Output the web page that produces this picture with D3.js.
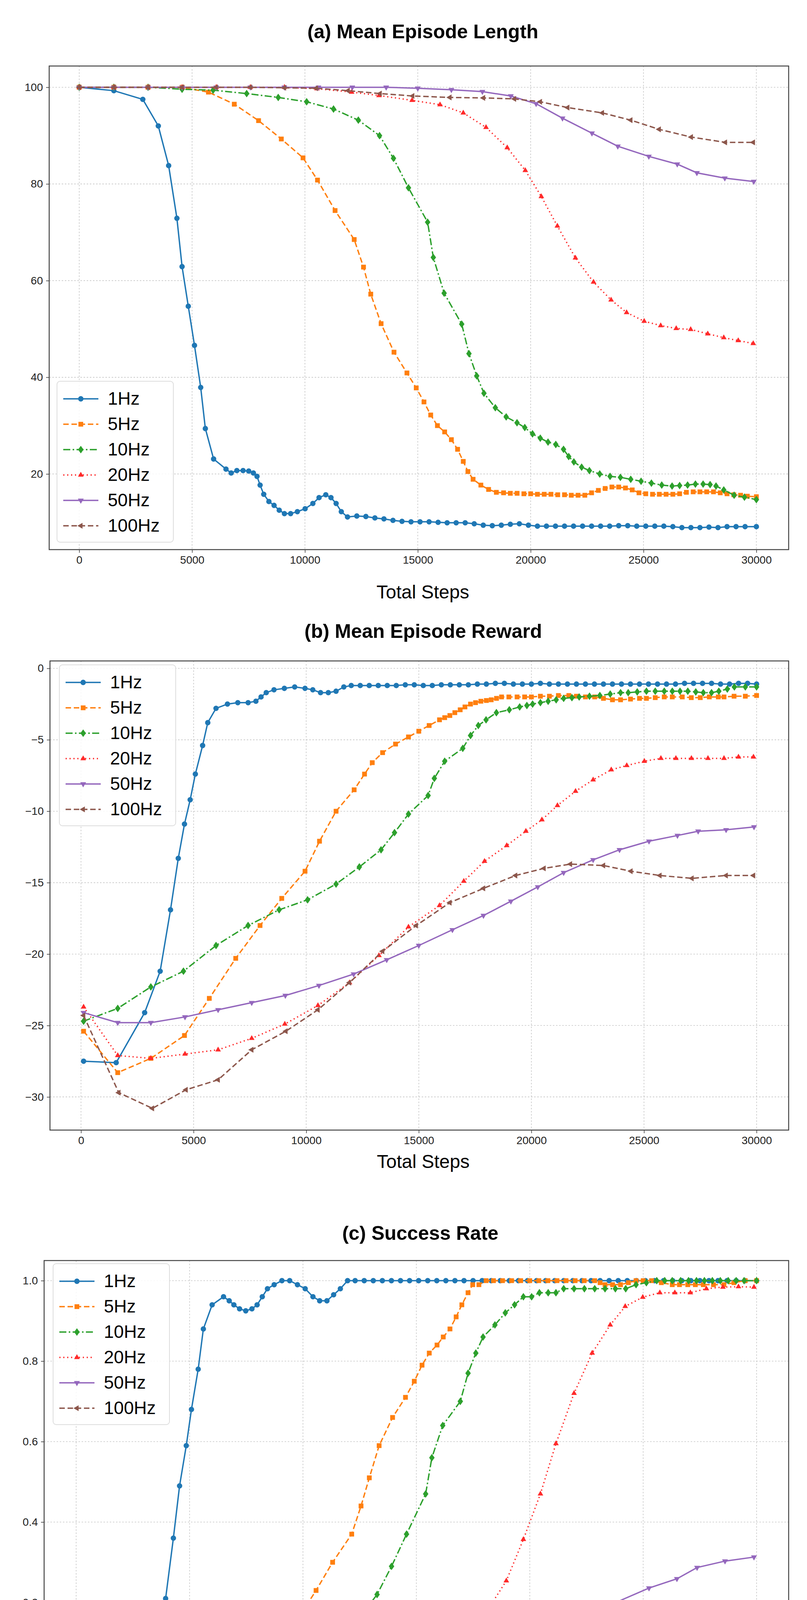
<!DOCTYPE html>
<html>
<head>
<meta charset="utf-8">
<script src="https://cdn.jsdelivr.net/npm/d3@7"></script>
<style>
  body { margin: 0; background: #fff; }
  svg { display: block; }
</style>
</head>
<body>
<div id="chart"></div>
<script>
// series labels, in legend order
const seriesNames = ['1Hz', '5Hz', '10Hz', '20Hz', '50Hz', '100Hz'];

// (a) Mean Episode Length  -- [steps, value]
const len1Hz = [[0,100],[1535,99.3],[2817,97.5],[3504,92],[3962,83.8],[4328,72.9],[4557,62.9],[4832,54.7],[5107,46.6],[5382,37.9],[5588,29.4],[5954,23.1],[6503,21],[6732,20.2],[6984,20.7],[7259,20.7],[7510,20.6],[7717,20.2],[7877,19.5],[8014,17.7],[8175,15.8],[8404,14.3],[8633,13.5],[8862,12.5],[9091,11.8],[9366,11.8],[9664,12.2],[10008,12.8],[10351,13.9],[10626,15.1],[10924,15.7],[11153,15.1],[11382,13.9],[11611,12.2],[11886,11.1],[12298,11.3],[12700,11.2],[13100,10.9],[13500,10.7],[13900,10.4],[14300,10.2],[14700,10.1],[15100,10.1],[15500,10.1],[15900,10],[16300,9.9],[16700,9.9],[17100,9.9],[17500,9.7],[17900,9.4],[18300,9.3],[18700,9.4],[19100,9.6],[19500,9.7],[19900,9.4],[20300,9.2],[20700,9.2],[21100,9.2],[21500,9.2],[21900,9.2],[22300,9.2],[22700,9.2],[23100,9.2],[23500,9.2],[23900,9.3],[24300,9.3],[24700,9.2],[25100,9.2],[25500,9.2],[25900,9.2],[26300,9.1],[26700,8.9],[27100,8.9],[27500,8.9],[27900,9],[28300,8.9],[28700,9.1],[29100,9.1],[29500,9.1],[30000,9.1]];
const len5Hz = [[0,100],[1535,100],[3050,100],[4560,100],[5725,99],[6870,96.5],[7946,93.1],[8954,89.3],[9916,85.4],[10557,80.8],[11336,74.5],[12183,68.5],[12595,62.8],[12916,57.2],[13374,51.1],[13946,45.2],[14519,40.9],[14931,37.8],[15274,34.9],[15572,32.2],[15870,30],[16190,28.7],[16488,27.1],[16763,25.1],[17015,22.6],[17221,20.5],[17450,18.9],[17794,17.7],[18137,16.8],[18481,16.2],[18800,16.1],[19100,16],[19400,16],[19700,15.9],[20000,15.9],[20300,15.8],[20600,15.8],[20900,15.8],[21200,15.7],[21500,15.7],[21800,15.6],[22100,15.6],[22400,15.6],[22700,16.1],[23000,16.6],[23300,17],[23600,17.3],[23900,17.3],[24200,17.1],[24500,16.7],[24800,16.1],[25100,15.9],[25400,15.8],[25700,15.8],[26000,15.8],[26300,15.8],[26600,15.9],[26900,16.2],[27200,16.3],[27500,16.3],[27800,16.3],[28100,16.3],[28400,16.1],[28700,15.9],[29000,15.7],[29300,15.6],[29600,15.4],[30000,15.3]];
const len10Hz = [[0,100],[1535,100],[3050,100],[4557,99.6],[5931,99.4],[7419,98.7],[8817,97.9],[10076,97],[11267,95.5],[12366,93.2],[13305,90],[13923,85.3],[14587,79.2],[15435,72.1],[15687,64.8],[16167,57.4],[16946,51],[17267,44.9],[17610,40.3],[17931,36.7],[18435,33.7],[18916,31.8],[19396,30.6],[19740,29.6],[20083,28.3],[20427,27.4],[20770,26.6],[21114,26.1],[21457,25.1],[21686,23.6],[21915,22.5],[22259,21.4],[22602,20.7],[23060,20],[23518,19.5],[23976,19.3],[24434,18.9],[24892,18.5],[25350,18.1],[25808,17.7],[26266,17.5],[26600,17.6],[26953,17.7],[27300,17.9],[27640,17.9],[27950,17.8],[28212,17.5],[28556,16.7],[29014,15.6],[29472,15.2],[30000,14.7]];
const len20Hz = [[0,100],[1535,100],[3050,100],[4560,100],[6070,100],[7580,100],[9090,100],[10534,99.7],[12069,99],[13282,98.3],[14748,97.3],[15985,96.4],[17015,94.7],[18023,91.7],[18962,87.5],[19763,82.8],[20473,77.4],[21183,71.3],[21984,64.7],[22785,59.7],[23564,56],[24251,53.4],[25029,51.6],[25762,50.7],[26449,50.1],[27090,49.9],[27846,49],[28556,48.2],[29197,47.6],[29861,47]];
const len50Hz = [[0,100],[1535,100],[3050,100],[4560,100],[6070,100],[7580,100],[9090,100],[10600,100],[12100,100],[13600,100],[15000,99.8],[16488,99.5],[17862,99.1],[19121,98.2],[20243,96.6],[21411,93.6],[22716,90.5],[23861,87.8],[25236,85.7],[26495,84.1],[27365,82.3],[28602,81.2],[29885,80.5]];
const len100Hz = [[0,100],[1535,100],[3050,100],[4560,100],[6070,100],[7580,100],[9090,99.9],[10500,99.8],[11909,99.3],[13328,98.7],[14771,98.2],[16419,97.9],[17908,97.8],[19281,97.6],[20427,97],[21640,95.8],[23174,94.7],[24434,93.2],[25693,91.3],[27113,89.7],[28625,88.6],[29862,88.6]];

// (b) Mean Episode Reward
const rew1Hz = [[115,-27.5],[1562,-27.6],[2826,-24.1],[3515,-21.2],[3975,-16.9],[4319,-13.3],[4595,-10.9],[4848,-9.2],[5078,-7.4],[5400,-5.4],[5629,-3.8],[5996,-2.8],[6502,-2.5],[6962,-2.4],[7421,-2.4],[7766,-2.3],[7995,-2],[8225,-1.7],[8570,-1.5],[9030,-1.4],[9489,-1.3],[9948,-1.4],[10292,-1.5],[10637,-1.7],[10982,-1.7],[11326,-1.6],[11671,-1.3],[12000,-1.2],[12400,-1.2],[12800,-1.2],[13200,-1.2],[13600,-1.2],[14000,-1.2],[14400,-1.15],[14800,-1.15],[15200,-1.2],[15600,-1.2],[16000,-1.15],[16400,-1.15],[16800,-1.15],[17200,-1.15],[17600,-1.1],[18000,-1.1],[18400,-1.05],[18800,-1.05],[19200,-1.1],[19600,-1.1],[20000,-1.1],[20400,-1.05],[20800,-1.1],[21200,-1.1],[21600,-1.1],[22000,-1.1],[22400,-1.1],[22800,-1.1],[23200,-1.1],[23600,-1.1],[24000,-1.1],[24400,-1.1],[24800,-1.1],[25200,-1.1],[25600,-1.1],[26000,-1.1],[26400,-1.1],[26800,-1.05],[27200,-1.05],[27600,-1.05],[28000,-1.05],[28400,-1.1],[28800,-1.1],[29200,-1.05],[29600,-1.05],[30000,-1.1]];
const rew5Hz = [[115,-25.4],[1631,-28.3],[3101,-27.3],[4595,-25.7],[5698,-23.1],[6870,-20.3],[7950,-18],[8914,-16.1],[9948,-14.2],[10591,-12.1],[11326,-10],[12130,-8.5],[12590,-7.4],[12934,-6.6],[13393,-5.9],[13968,-5.3],[14542,-4.8],[15000,-4.4],[15460,-4],[15920,-3.6],[16150,-3.45],[16379,-3.3],[16600,-3.1],[16838,-2.9],[17050,-2.7],[17297,-2.5],[17520,-2.4],[17757,-2.3],[18000,-2.25],[18216,-2.2],[18450,-2.1],[18675,-2.0],[19000,-2],[19365,-2],[19700,-2],[20000,-2],[20400,-1.95],[20800,-1.95],[21200,-1.9],[21662,-1.9],[22000,-1.95],[22400,-2],[22811,-2],[23200,-2.1],[23600,-2.2],[23960,-2.2],[24400,-2.15],[24800,-2.1],[25108,-2.1],[25500,-2.05],[25900,-2],[26257,-2],[26700,-2],[27100,-2.05],[27500,-2.05],[27900,-2],[28300,-2],[28554,-2],[29000,-1.95],[29500,-1.95],[30000,-1.9]];
const rew10Hz = [[115,-24.7],[1631,-23.8],[3101,-22.3],[4549,-21.2],[5996,-19.4],[7420,-18],[8799,-16.9],[10062,-16.2],[11326,-15.1],[12360,-13.9],[13324,-12.7],[13922,-11.5],[14542,-10.2],[15414,-8.9],[15690,-7.7],[16150,-6.5],[16953,-5.6],[17298,-4.7],[17643,-4.0],[17987,-3.6],[18446,-3.1],[19020,-2.9],[19480,-2.7],[19800,-2.6],[20054,-2.5],[20400,-2.4],[20744,-2.3],[21100,-2.2],[21433,-2.1],[21800,-2.05],[22122,-2],[22580,-1.95],[23040,-1.9],[23500,-1.8],[23960,-1.7],[24300,-1.7],[24700,-1.65],[25108,-1.6],[25500,-1.6],[25900,-1.6],[26257,-1.6],[26600,-1.6],[26946,-1.6],[27300,-1.65],[27635,-1.7],[28000,-1.7],[28324,-1.6],[28700,-1.45],[29014,-1.3],[29500,-1.3],[30000,-1.3]];
const rew20Hz = [[115,-23.7],[1631,-27.1],[3101,-27.3],[4618,-27],[6088,-26.7],[7581,-25.9],[9051,-24.9],[10521,-23.6],[11922,-22],[13231,-20.1],[14542,-18.1],[15920,-16.6],[16999,-14.9],[17918,-13.5],[18905,-12.4],[19755,-11.4],[20467,-10.6],[21157,-9.6],[21961,-8.6],[22742,-7.8],[23546,-7.1],[24235,-6.8],[25016,-6.5],[25751,-6.3],[26417,-6.3],[27106,-6.3],[27841,-6.3],[28553,-6.3],[29196,-6.2],[29862,-6.2]];
const rew50Hz = [[115,-24.1],[1631,-24.8],[3101,-24.8],[4618,-24.4],[6088,-23.9],[7581,-23.4],[9074,-22.9],[10567,-22.2],[12106,-21.4],[13576,-20.4],[15000,-19.4],[16493,-18.3],[17872,-17.3],[19089,-16.3],[20284,-15.3],[21433,-14.3],[22742,-13.4],[23914,-12.7],[25223,-12.1],[26486,-11.7],[27405,-11.4],[28646,-11.3],[29886,-11.1]];
const rew100Hz = [[115,-24.3],[1677,-29.7],[3170,-30.8],[4663,-29.5],[6088,-28.8],[7581,-26.7],[9097,-25.4],[10521,-23.9],[11922,-22],[13392,-19.8],[14885,-18],[16379,-16.4],[17872,-15.4],[19296,-14.5],[20559,-14],[21731,-13.7],[23201,-13.8],[24419,-14.2],[25705,-14.5],[27130,-14.7],[28646,-14.5],[29862,-14.5]];

// (c) Success Rate
const suc1Hz = [[68,0],[1550,0.01],[2781,0.03],[3488,0.11],[3944,0.21],[4286,0.36],[4559,0.49],[4855,0.59],[5083,0.68],[5380,0.78],[5608,0.88],[5995,0.94],[6497,0.96],[6748,0.95],[6953,0.94],[7204,0.93],[7477,0.925],[7750,0.93],[7978,0.94],[8206,0.96],[8434,0.98],[8730,0.99],[9072,1.0],[9414,1.0],[9756,0.99],[10098,0.98],[10440,0.96],[10736,0.95],[11056,0.95],[11352,0.965],[11648,0.98],[11967,1.0],[12300,1],[12700,1],[13100,1],[13500,1],[13900,1],[14300,1],[14700,1],[15100,1],[15500,1],[15900,1],[16300,1],[16700,1],[17100,1],[17500,1],[17900,1],[18300,1],[18700,1],[19100,1],[19500,1],[19900,1],[20300,1],[20700,1],[21100,1],[21500,1],[21900,1],[22300,1],[22700,1],[23100,1],[23500,1],[23900,1],[24300,1],[24700,1],[25100,1],[25500,1],[25900,1],[26300,1],[26700,1],[27100,1],[27500,1],[27900,1],[28300,1],[28700,1],[29100,1],[29500,1],[30000,1]];
const suc5Hz = [[68,0],[1550,0],[3100,0],[4582,0],[5699,0.01],[6839,0.04],[7933,0.08],[8913,0.13],[9893,0.17],[10577,0.23],[11307,0.30],[12150,0.37],[12560,0.44],[12925,0.51],[13358,0.59],[13951,0.66],[14520,0.71],[14908,0.75],[15250,0.79],[15569,0.82],[15911,0.84],[16185,0.86],[16481,0.88],[16754,0.91],[17005,0.94],[17278,0.97],[17484,0.99],[17757,0.99],[18076,1.0],[18400,1],[18800,1],[19200,1],[19600,1],[20000,1],[20400,1],[20800,1],[21200,1],[21600,1],[22000,1],[22400,1],[22863,1.0],[23100,0.995],[23318,0.99],[23650,0.99],[24002,0.99],[24350,0.995],[24686,1.0],[25000,1],[25370,1.0],[25800,0.995],[26282,0.99],[26600,0.99],[26966,0.99],[27300,0.99],[27650,0.99],[28100,0.99],[28562,0.99],[29000,0.995],[29500,1],[30000,1.0]];
const suc10Hz = [[68,0],[1550,0],[3100,0],[4582,0.01],[5995,0.02],[7363,0.04],[8776,0.06],[10052,0.07],[11238,0.10],[12332,0.15],[13267,0.22],[13905,0.29],[14566,0.37],[15409,0.47],[15683,0.56],[16162,0.64],[16937,0.70],[17279,0.77],[17621,0.82],[17940,0.86],[18464,0.89],[18920,0.92],[19330,0.94],[19718,0.96],[20082,0.96],[20424,0.97],[20812,0.97],[21154,0.97],[21496,0.98],[21952,0.98],[22408,0.98],[22863,0.98],[23318,0.98],[23774,0.98],[24230,0.98],[24686,0.99],[25142,0.995],[25598,1.0],[25950,1],[26282,1],[26650,1],[27000,1],[27350,1],[27700,1],[28050,1],[28400,1],[28750,1],[29100,1],[29450,1],[30000,1.0]];
const suc20Hz = [[68,0],[1550,0],[3100,0],[4582,0],[6100,0],[7600,0],[9118,0],[10554,0.01],[11854,0.016],[13267,0.034],[14703,0.053],[15979,0.071],[17005,0.107],[17963,0.166],[18966,0.254],[19718,0.357],[20470,0.47],[21154,0.595],[21952,0.72],[22750,0.82],[23547,0.89],[24208,0.936],[24983,0.959],[25735,0.97],[26396,0.97],[27080,0.97],[27787,0.98],[28517,0.984],[29201,0.985],[29885,0.984]];
const suc50Hz = [[68,0],[1550,0],[3100,0],[4582,0],[6100,0],[7600,0],[9118,0],[10600,0],[12104,0],[13563,0.003],[15000,0.007],[16481,0.017],[17963,0.026],[19171,0.04],[20242,0.069],[21382,0.113],[22704,0.161],[23866,0.202],[25257,0.236],[26488,0.259],[27377,0.287],[28608,0.303],[29885,0.313]];
const suc100Hz = [[68,0],[1550,0],[3100,0],[4582,0],[6100,0],[7600,0],[9118,0],[10554,0.004],[11990,0.011],[13472,0.018],[14954,0.025],[16413,0.027],[17894,0.030],[19262,0.033],[20539,0.041],[21724,0.060],[23183,0.086],[24391,0.107],[25668,0.136],[27127,0.159],[28654,0.175],[29817,0.174]];

const xTicks = [0, 5000, 10000, 15000, 20000, 25000, 30000];
const lenTicks = [20, 40, 60, 80, 100];
const rewTicks = [0, -5, -10, -15, -20, -25, -30];
const sucTicks = [0.0, 0.2, 0.4, 0.6, 0.8, 1.0];

// series styling (matplotlib look)
const styles = [
  { color: '#1f77b4', dash: null,         marker: 'circle',   size: 150 },
  { color: '#ff7f0e', dash: '14,7',       marker: 'square',   size: 150 },
  { color: '#2ca02c', dash: '18,6,4,6',   marker: 'diamond',  size: 170 },
  { color: '#ff2a2a', dash: '3,7',        marker: 'tri-up',   size: 90 },
  { color: '#9467bd', dash: null,         marker: 'tri-down', size: 100 },
  { color: '#8c564b', dash: '14,7',       marker: 'tri-left', size: 100 }
];

const W = 2067, H = 4547;
const svg = d3.select('#chart').append('svg')
  .attr('width', W).attr('height', H)
  .style('font-family', '"Liberation Sans", Arial, sans-serif');

function markerPath(kind, size) {
  if (kind === 'circle') return d3.symbol(d3.symbolCircle, size)();
  if (kind === 'square') return d3.symbol(d3.symbolSquare, size)();
  if (kind === 'diamond') {
    const h = Math.sqrt(size) * 0.75, w = h * 0.72;
    return `M0,${-h}L${w},0L0,${h}L${-w},0Z`;
  }
  return d3.symbol(d3.symbolTriangle, size)();
}
function markerRot(kind) {
  if (kind === 'tri-down') return 180;
  if (kind === 'tri-left') return -90;
  return 0;
}

const panels = [
  { title: '(a) Mean Episode Length', series: [len1Hz, len5Hz, len10Hz, len20Hz, len50Hz, len100Hz],
    box: { l: 126, r: 2020, t: 169, b: 1407 }, xDom: [-1330, 31430], yDom: [4.35, 104.4],
    yTicks: lenTicks, fmt: d3.format('d'), titleY: 98, labelY: 1532, legend: { x: 146, y: 976 } },
  { title: '(b) Mean Episode Reward', series: [rew1Hz, rew5Hz, rew10Hz, rew20Hz, rew50Hz, rew100Hz],
    box: { l: 128, r: 2020, t: 1692, b: 2893 }, xDom: [-1378, 31424], yDom: [-32.32, 0.52],
    yTicks: rewTicks, fmt: d => d === 0 ? '0' : '\u2212' + Math.abs(d), titleY: 1633, labelY: 2990, legend: { x: 152, y: 1702 } },
  { title: '(c) Success Rate', series: [suc1Hz, suc5Hz, suc10Hz, suc20Hz, suc50Hz, suc100Hz],
    box: { l: 113, r: 2020, t: 3227, b: 4360 }, xDom: [-1413, 31414], yDom: [-0.05, 1.05],
    yTicks: sucTicks, fmt: d3.format('.1f'), titleY: 3174, labelY: 4508, legend: { x: 136, y: 3235 } }
];

panels.forEach(p => {
  const g = svg.append('g');
  const { l, r, t, b } = p.box;
  const x = d3.scaleLinear().domain(p.xDom).range([l, r]);
  const y = d3.scaleLinear().domain(p.yDom).range([b, t]);

  // title
  g.append('text')
    .attr('x', (l + r) / 2 + 10).attr('y', p.titleY)
    .attr('text-anchor', 'middle')
    .attr('font-size', 50).attr('font-weight', 'bold')
    .text(p.title);

  // grid
  const grid = g.append('g').attr('stroke', '#c8c8c8').attr('stroke-width', 1.6).attr('stroke-dasharray', '4,4');
  xTicks.forEach(v => grid.append('line').attr('x1', x(v)).attr('x2', x(v)).attr('y1', t).attr('y2', b));
  p.yTicks.forEach(v => grid.append('line').attr('x1', l).attr('x2', r).attr('y1', y(v)).attr('y2', y(v)));

  // axes
  g.append('g').attr('transform', `translate(0,${b})`)
    .call(d3.axisBottom(x).tickValues(xTicks).tickFormat(d3.format('d')).tickSize(8).tickPadding(8))
    .call(a => a.select('.domain').remove())
    .call(a => a.selectAll('text').attr('font-size', 28).attr('fill', '#222'))
    .call(a => a.selectAll('line').attr('stroke', '#333').attr('stroke-width', 1.5));
  g.append('g').attr('transform', `translate(${l},0)`)
    .call(d3.axisLeft(y).tickValues(p.yTicks).tickFormat(p.fmt).tickSize(8).tickPadding(8))
    .call(a => a.select('.domain').remove())
    .call(a => a.selectAll('text').attr('font-size', 28).attr('fill', '#222'))
    .call(a => a.selectAll('line').attr('stroke', '#333').attr('stroke-width', 1.5));

  g.append('text')
    .attr('x', (l + r) / 2 + 10).attr('y', p.labelY)
    .attr('text-anchor', 'middle').attr('font-size', 48)
    .text('Total Steps');

  // lines and markers
  const line = d3.line().x(d => x(d[0])).y(d => y(d[1]));
  p.series.forEach((data, i) => {
    const s = styles[i];
    g.append('path').datum(data)
      .attr('d', line).attr('fill', 'none')
      .attr('stroke', s.color).attr('stroke-width', 3.5)
      .attr('stroke-dasharray', s.dash);
    g.append('g').selectAll('path').data(data).join('path')
      .attr('d', markerPath(s.marker, s.size))
      .attr('transform', d => `translate(${x(d[0])},${y(d[1])}) rotate(${markerRot(s.marker)})`)
      .attr('fill', s.color);
  });

  // frame
  g.append('rect').attr('x', l).attr('y', t).attr('width', r - l).attr('height', b - t)
    .attr('fill', 'none').attr('stroke', '#444').attr('stroke-width', 2.5);

  // legend
  const lg = g.append('g').attr('transform', `translate(${p.legend.x},${p.legend.y})`);
  lg.append('rect').attr('width', 298).attr('height', 412).attr('rx', 8)
    .attr('fill', 'rgba(255,255,255,0.85)').attr('stroke', '#ddd').attr('stroke-width', 2);
  seriesNames.forEach((name, i) => {
    const s = styles[i];
    const row = lg.append('g').attr('transform', `translate(0,${45 + i * 65})`);
    row.append('line').attr('x1', 16).attr('x2', 106).attr('y1', 0).attr('y2', 0)
      .attr('stroke', s.color).attr('stroke-width', 3.5).attr('stroke-dasharray', s.dash);
    row.append('path').attr('d', markerPath(s.marker, s.size))
      .attr('transform', `translate(61,0) rotate(${markerRot(s.marker)})`)
      .attr('fill', s.color);
    row.append('text').attr('x', 130).attr('y', 15).attr('font-size', 46).text(name);
  });
});
</script>
</body>
</html>
